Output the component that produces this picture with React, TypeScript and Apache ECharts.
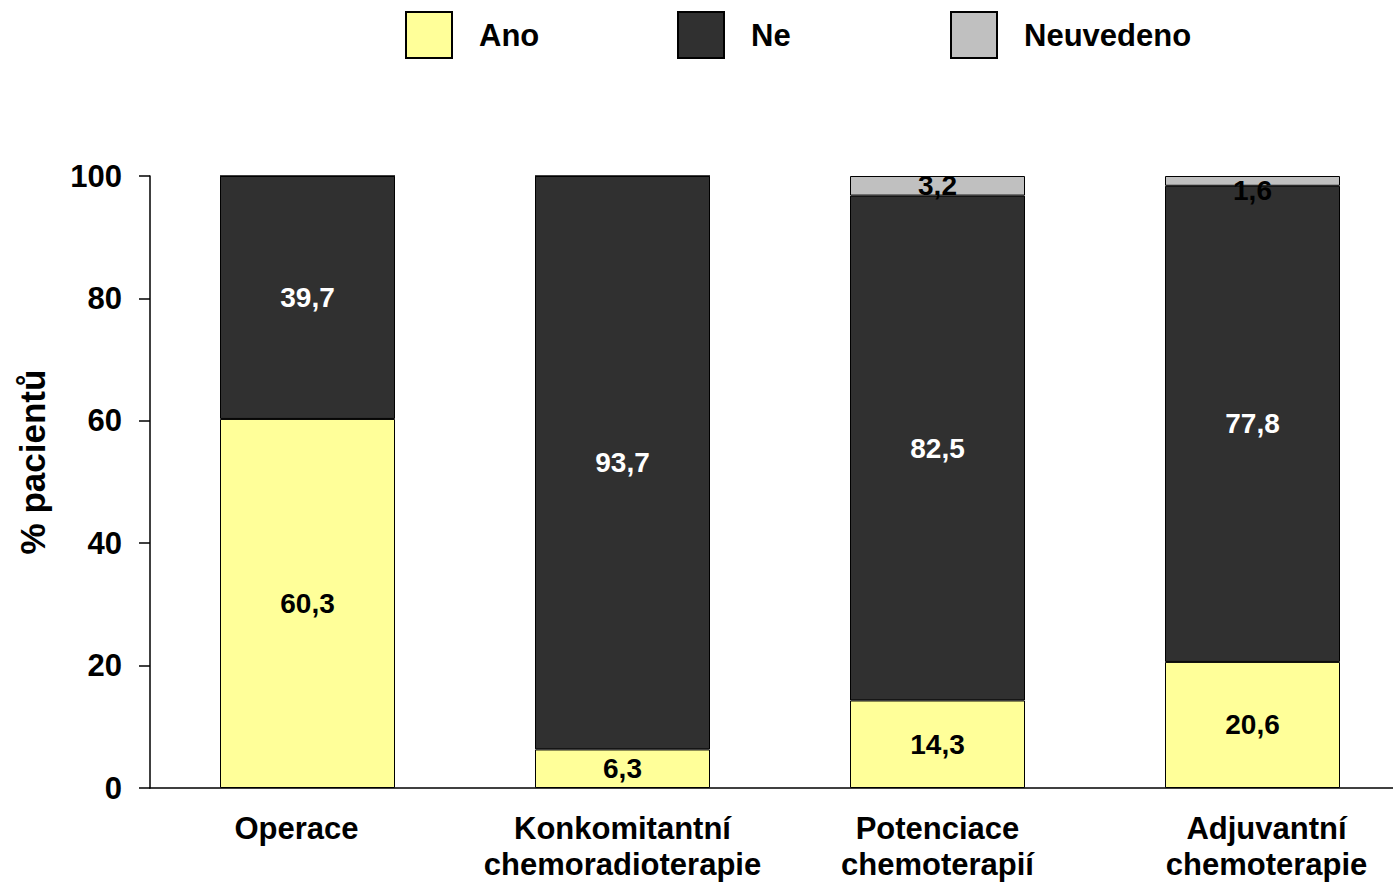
import React, { useEffect, useRef } from "react";
import * as echarts from "echarts";

const categories = [
  "Operace",
  "Konkomitantní\nchemoradioterapie",
  "Potenciace\nchemoterapií",
  "Adjuvantní\nchemoterapie",
];
const ano = [60.3, 6.3, 14.3, 20.6];
const ne = [39.7, 93.7, 82.5, 77.8];
const neuvedeno = [0, 0, 3.2, 1.6];
const yTicks = [0, 20, 40, 60, 80, 100];

const FONT = "'Liberation Sans', Arial, sans-serif";
const fmt = (v: number) => String(v).replace(".", ",");

export default function App() {
  const ref = useRef<HTMLDivElement>(null);

  useEffect(() => {
    if (!ref.current) return;
    const chart = echarts.init(ref.current, undefined, { renderer: "svg" });

    const legendItem = (name: string, left: number) => ({
      show: true,
      data: [name],
      left,
      top: 6,
      padding: 5,
      itemWidth: 46,
      itemHeight: 46,
      itemGap: 0,
      icon: "rect",
      selectedMode: false,
      textStyle: {
        fontFamily: FONT,
        fontWeight: "bold",
        fontSize: 31,
        color: "#000",
        padding: [0, 0, 0, 22],
      },
    });

    const labelBase = {
      show: true,
      position: "inside",
      fontFamily: FONT,
      fontWeight: "bold",
      fontSize: 28,
    };

    // small horizontal nudges for the outer category labels
    const labelNudge = [-11, 0, 0, 14];
    const categoryData = categories.map((c, i) => ({
      value: c,
      textStyle: {
        padding:
          labelNudge[i] < 0
            ? [0, -2 * labelNudge[i], 0, 0]
            : [0, 0, 0, 2 * labelNudge[i]],
      },
    }));

    chart.setOption({
      animation: false,
      backgroundColor: "#fff",
      legend: [
        legendItem("Ano", 400),
        legendItem("Ne", 672),
        legendItem("Neuvedeno", 945),
      ],
      graphic: [
        {
          type: "text",
          x: 32,
          y: 462,
          rotation: Math.PI / 2,
          style: {
            text: "% pacientů",
            font: `bold 35px ${FONT}`,
            fill: "#000",
            align: "center",
            verticalAlign: "middle",
          },
        },
      ],
      grid: {
        left: 150,
        top: 176,
        width: 1260,
        height: 612,
        containLabel: false,
        outerBoundsMode: "none",
      },
      xAxis: {
        type: "category",
        data: categoryData,
        axisLine: { lineStyle: { color: "#000", width: 1.5 } },
        axisTick: { show: false },
        axisLabel: {
          fontFamily: FONT,
          fontWeight: "bold",
          fontSize: 31,
          color: "#000",
          lineHeight: 36,
          margin: 22,
          interval: 0,
        },
      },
      yAxis: {
        type: "value",
        min: yTicks[0],
        max: yTicks[yTicks.length - 1],
        interval: 20,
        splitLine: { show: false },
        axisLine: { show: true, lineStyle: { color: "#000", width: 1.5 } },
        axisTick: { show: true, inside: false, length: 11, lineStyle: { color: "#000", width: 1.5 } },
        axisLabel: {
          fontFamily: FONT,
          fontWeight: "bold",
          fontSize: 31,
          color: "#000",
          margin: 28,
        },
      },
      series: [
        {
          name: "Ano",
          type: "bar",
          stack: "total",
          barWidth: 175,
          data: ano,
          itemStyle: { color: "#FFFF99", borderColor: "#000", borderWidth: 1 },
          label: { ...labelBase, color: "#000", formatter: (p: any) => fmt(p.value) },
        },
        {
          name: "Ne",
          type: "bar",
          stack: "total",
          barWidth: 175,
          data: ne,
          itemStyle: { color: "#303030", borderColor: "#000", borderWidth: 1 },
          label: { ...labelBase, color: "#fff", formatter: (p: any) => fmt(p.value) },
        },
        {
          name: "Neuvedeno",
          type: "bar",
          stack: "total",
          barWidth: 175,
          data: neuvedeno.map((v) => ({
            value: v,
            label: { show: v > 0, offset: v < 2 ? [0, 10] : [0, 0] },
          })),
          itemStyle: { color: "#C0C0C0", borderColor: "#000", borderWidth: 1 },
          label: { ...labelBase, color: "#000", formatter: (p: any) => fmt(p.value) },
        },
      ],
    });

    return () => chart.dispose();
  }, []);

  return (
    <div
      style={{
        position: "fixed",
        left: 0,
        top: 0,
        width: 1393,
        height: 883,
        overflow: "hidden",
        background: "#fff",
      }}
    >
      <div ref={ref} style={{ width: 1393, height: 883, overflow: "hidden" }} />
    </div>
  );
}
